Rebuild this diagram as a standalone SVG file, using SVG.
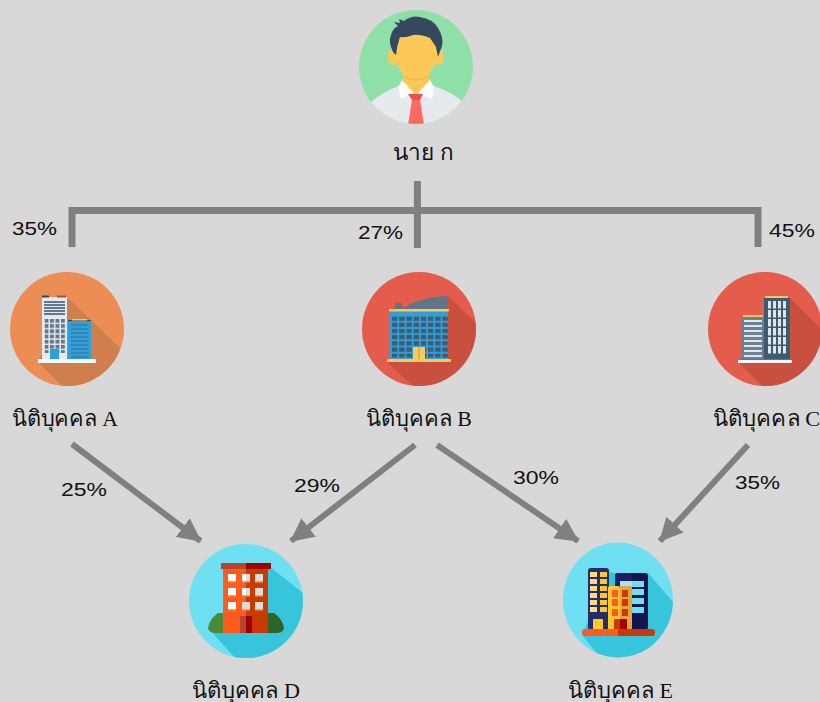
<svg xmlns="http://www.w3.org/2000/svg" width="820" height="702" viewBox="0 0 820 702">
<defs>
<style>
.lbl{font-family:"Liberation Serif","Noto Sans",serif;font-size:22px;fill:#111;text-anchor:middle}
.pct{font-family:"Liberation Sans",sans-serif;font-size:18px;fill:#111;text-anchor:middle}
.conn{stroke:#808080;fill:none}
.t{stroke-width:7}
.a{stroke-width:6;marker-end:url(#ah)}
</style>
<marker id="ah" viewBox="0 0 10 10" refX="9.500" refY="5" markerWidth="3.900" markerHeight="3.900" orient="auto" markerUnits="strokeWidth"><path d="M0 0L10 5L0 10Z" fill="#808080"/></marker>
<clipPath id="cP"><circle cx="416" cy="67" r="57"/></clipPath>
<clipPath id="cA"><circle cx="67" cy="329" r="57"/></clipPath>
<clipPath id="cB"><circle cx="419" cy="329" r="57"/></clipPath>
<clipPath id="cC"><circle cx="765" cy="329" r="57"/></clipPath>
<clipPath id="cD"><circle cx="246" cy="601" r="57"/></clipPath>
<clipPath id="cE"><ellipse cx="618" cy="600" rx="55" ry="57.500"/></clipPath>
<pattern id="pA" x="44.500" y="319" width="5.500" height="5.200" patternUnits="userSpaceOnUse"><rect width="4" height="3.800" fill="#62788c"/></pattern>
<pattern id="pB" x="392" y="316.500" width="7.200" height="6.200" patternUnits="userSpaceOnUse"><rect width="5.400" height="4.200" fill="#44596b"/></pattern>
<pattern id="pC" x="768" y="301" width="5" height="9" patternUnits="userSpaceOnUse"><rect width="3" height="7.500" fill="#dfe6ea"/></pattern>
</defs>
<rect width="820" height="702" fill="#d8d8d8"/>
<g id="connectors">
<path class="conn t" d="M72 247V210.500H758V247M417.400 181V248"/>
<path class="conn a" d="M72 444L200.500 541"/>
<path class="conn a" d="M415 445L291 541"/>
<path class="conn a" d="M437 445L578 541"/>
<path class="conn a" d="M748 445L660 541"/>
</g>
<g id="person">
<circle cx="416" cy="67" r="57" fill="#8fdfa8"/>
<g clip-path="url(#cP)">
<path d="M371 102Q385 90 402 85H430Q448 90 461 100V130H371Z" fill="#e6e9ee"/>
<ellipse cx="393" cy="57" rx="5" ry="8" fill="#fdc956"/><ellipse cx="439" cy="57" rx="5" ry="8" fill="#fdc956"/>
<path d="M403 70H429V88L416 97L403 88Z" fill="#fdc956"/>
<path d="M403 76Q416 84 429 76" fill="none" stroke="#eeb04c" stroke-width="1"/>
<path d="M396 35H436V55Q436 77 416 77Q396 77 396 55Z" fill="#fdc956"/>
<path d="M393 52Q388 42 391 35Q393 28 398 26L394 22L400 23L399 19L404 21Q411 15 420 17Q433 19 438 28Q444 38 442 46L438 57L436 47L430 38Q420 34 413 35Q405 38 400 37Q397 45 396 55Z" fill="#34495e"/>
<path d="M402 80L398 87L401 99L414 93Z M430 80L434 87L432 99L418 93Z" fill="#fff"/>
<path d="M412 100H420L424 125H408Z" fill="#ff6b5c"/>
<path d="M408 94H423L420 100H412Z" fill="#e8524a"/>
</g>
<text class="lbl" x="423" y="160" textLength="60" lengthAdjust="spacingAndGlyphs">นาย ก</text>
</g>
<g id="company-a">
<circle cx="67" cy="329" r="57" fill="#ec8d55"/>
<path d="M68 298L120 348L110 386H62L38 362Z" fill="#cf7f4e" clip-path="url(#cA)"/>
<rect x="42" y="297" width="25" height="63" fill="#e6e9ee"/>
<rect x="42" y="295.500" width="7" height="2" fill="#34495e"/><rect x="57" y="295.500" width="9" height="2" fill="#a0524a"/>
<path d="M44 302H65M44 305H65M44 308H65M44 311H65M44 314H65" stroke="#62788c" stroke-width="2"/>
<rect x="44.500" y="319" width="21" height="34" fill="url(#pA)"/>
<rect x="50" y="349" width="9" height="11" fill="#2d9fdb"/>
<rect x="68" y="320" width="23" height="2" fill="#34495e"/>
<rect x="72" y="319" width="15" height="1.500" fill="#fdc956"/>
<rect x="68" y="321" width="23" height="38" fill="#2d9fdb"/>
<path d="M71 325H88M71 329H88M71 333H88M71 337H88M71 341H88M71 345H88M71 349H88M71 353H88M71 357H88" stroke="#3f6a8a" stroke-width="1.200"/>
<rect x="38" y="359" width="58" height="4" fill="#f4f6f8"/>
<text class="lbl" x="65" y="426" textLength="106" lengthAdjust="spacingAndGlyphs">นิติบุคคล A</text>
</g>
<g id="company-b">
<circle cx="419" cy="329" r="57" fill="#e45c4c"/>
<path d="M448 296L476 323V386H413L387 362Z" fill="#c9503f" clip-path="url(#cB)"/>
<rect x="395" y="303" width="7" height="6" fill="#5f7688"/>
<path d="M402 309Q420 297 448 296V309Z" fill="#5f7688"/>
<rect x="390" y="310" width="58" height="49" fill="#2d9fdb"/>
<rect x="389" y="309" width="60" height="2.500" fill="#fdc956"/>
<rect x="392" y="316.500" width="56" height="41" fill="url(#pB)"/>
<rect x="413" y="347" width="12" height="12" fill="#fdc956"/>
<rect x="418" y="347" width="2" height="12" fill="#e0b04c"/>
<rect x="387" y="359" width="64" height="3" fill="#fdc956"/>
<text class="lbl" x="419" y="426" textLength="106" lengthAdjust="spacingAndGlyphs">นิติบุคคล B</text>
</g>
<g id="company-c">
<circle cx="765" cy="329" r="57" fill="#e45c4c"/>
<path d="M790 298L822 330V386H762L738 362Z" fill="#c9503f" clip-path="url(#cC)"/>
<rect x="764" y="298" width="26" height="61" fill="#3e5a72"/>
<rect x="765" y="296" width="23" height="2" fill="#fdc956"/>
<rect x="768" y="301" width="20" height="54" fill="url(#pC)"/>
<rect x="742" y="317" width="21" height="42" fill="#6c8093"/>
<rect x="743" y="315" width="20" height="2" fill="#fdc956"/>
<path d="M744 321H762M744 326H762M744 331H762M744 336H762M744 341H762M744 346H762M744 351H762M744 356H762" stroke="#dfe6ea" stroke-width="2"/>
<rect x="738" y="360" width="54" height="3" fill="#f4f6f8"/>
<text class="lbl" x="766.500" y="426" textLength="107" lengthAdjust="spacingAndGlyphs">นิติบุคคล C</text>
</g>
<g id="company-d">
<circle cx="246" cy="601" r="57" fill="#6fe0f2"/>
<path d="M270 567L303 593V660H237L208 628Z" fill="#36c5db" clip-path="url(#cD)"/>
<path d="M223 613H218Q212 617 209 624Q206 632 214 633H223Z" fill="#4a8a3a"/>
<path d="M268 613H274Q280 617 283 624Q286 632 278 633H268Z" fill="#2f6428"/>
<rect x="223" y="569" width="23" height="64" fill="#ff5a1f"/>
<rect x="246" y="569" width="22" height="64" fill="#c93a00"/>
<rect x="221" y="563" width="25" height="6" fill="#b5452b"/>
<rect x="246" y="563" width="25" height="6" fill="#a00000"/>
<g fill="#f7a823"><rect x="228" y="574" width="8" height="8.500"/><rect x="242" y="574" width="8" height="8.500"/><rect x="255" y="574" width="8" height="8.500"/><rect x="228" y="588" width="8" height="8.500"/><rect x="242" y="588" width="8" height="8.500"/><rect x="255" y="588" width="8" height="8.500"/><rect x="228" y="602" width="8" height="8.500"/><rect x="242" y="602" width="8" height="8.500"/><rect x="255" y="602" width="8" height="8.500"/></g>
<g fill="#fff"><rect x="228" y="574" width="8" height="7"/><rect x="228" y="588" width="8" height="7"/><rect x="228" y="602" width="8" height="7"/><rect x="242" y="574" width="4" height="7"/><rect x="242" y="588" width="4" height="7"/></g>
<g fill="#dcdcdc"><rect x="246" y="574" width="4" height="7"/><rect x="246" y="588" width="4" height="7"/><rect x="242" y="602" width="8" height="7"/><rect x="255" y="574" width="8" height="7"/><rect x="255" y="588" width="8" height="7"/><rect x="255" y="602" width="8" height="7"/></g>
<rect x="240" y="616" width="6" height="17" fill="#b5452b"/><rect x="246" y="616" width="6" height="17" fill="#a00000"/>
<text class="lbl" x="246" y="698" textLength="108" lengthAdjust="spacingAndGlyphs">นิติบุคคล D</text>
</g>
<g id="company-e">
<ellipse cx="618" cy="600" rx="55" ry="57.500" fill="#6fe0f2"/>
<path d="M609 572L615 573H648L673 602V660H602L582 635Z" fill="#36c5db" clip-path="url(#cE)"/>
<rect x="615" y="573" width="33" height="57" rx="3" fill="#14144f"/>
<rect x="615" y="573" width="17" height="57" rx="3" fill="#1a1f6b"/>
<g fill="#6fe0f2"><rect x="620" y="581" width="24" height="6"/><rect x="620" y="589" width="24" height="6"/><rect x="620" y="598" width="24" height="6"/><rect x="620" y="607" width="24" height="6"/></g>
<g fill="#a5e4f2"><rect x="620" y="581" width="12" height="6"/><rect x="620" y="589" width="12" height="6"/><rect x="620" y="598" width="12" height="6"/><rect x="620" y="607" width="12" height="6"/></g>
<rect x="588" y="568" width="21" height="62" rx="3" fill="#1f2f6e"/>
<g fill="#ffd98a"><rect x="590" y="572" width="7" height="5"/><rect x="590" y="579" width="7" height="5"/><rect x="590" y="586" width="7" height="5"/><rect x="590" y="593" width="7" height="5"/><rect x="590" y="600" width="7" height="5"/><rect x="590" y="607" width="7" height="5"/></g>
<g fill="#ffc72c"><rect x="600" y="572" width="7" height="5"/><rect x="600" y="579" width="7" height="5"/><rect x="600" y="586" width="7" height="5"/><rect x="600" y="593" width="7" height="5"/><rect x="600" y="600" width="7" height="5"/><rect x="600" y="607" width="7" height="5"/></g>
<rect x="593" y="619" width="10" height="11" fill="#ffc72c"/>
<rect x="608" y="586" width="12" height="44" rx="2" fill="#ffc72c"/>
<rect x="620" y="586" width="12" height="44" rx="2" fill="#e8a33a"/>
<g fill="#ff5a1f"><rect x="612" y="590" width="6" height="7"/><rect x="612" y="599" width="6" height="7"/><rect x="612" y="609" width="6" height="7"/></g>
<g fill="#c93a00"><rect x="622" y="590" width="6" height="7"/><rect x="622" y="599" width="6" height="7"/><rect x="622" y="609" width="6" height="7"/></g>
<rect x="614" y="619" width="6" height="11" fill="#c93a00"/><rect x="620" y="619" width="7" height="11" fill="#a00000"/>
<path d="M618 629H585Q582 629 582 632.500Q582 636 585 636H618Z" fill="#ff5a1f"/>
<path d="M618 629H652Q655 629 655 632.500Q655 636 652 636H618Z" fill="#c93a00"/>
<text class="lbl" x="620.500" y="698" textLength="105" lengthAdjust="spacingAndGlyphs">นิติบุคคล E</text>
</g>
<g id="labels">
<text class="pct" x="34.500" y="235" textLength="45" lengthAdjust="spacingAndGlyphs">35%</text>
<text class="pct" x="380.500" y="239" textLength="45" lengthAdjust="spacingAndGlyphs">27%</text>
<text class="pct" x="792" y="237" textLength="46" lengthAdjust="spacingAndGlyphs">45%</text>
<text class="pct" x="84" y="496" textLength="46" lengthAdjust="spacingAndGlyphs">25%</text>
<text class="pct" x="317" y="491.500" textLength="46" lengthAdjust="spacingAndGlyphs">29%</text>
<text class="pct" x="536" y="484" textLength="46" lengthAdjust="spacingAndGlyphs">30%</text>
<text class="pct" x="757.500" y="489" textLength="45" lengthAdjust="spacingAndGlyphs">35%</text>
</g>
</svg>
